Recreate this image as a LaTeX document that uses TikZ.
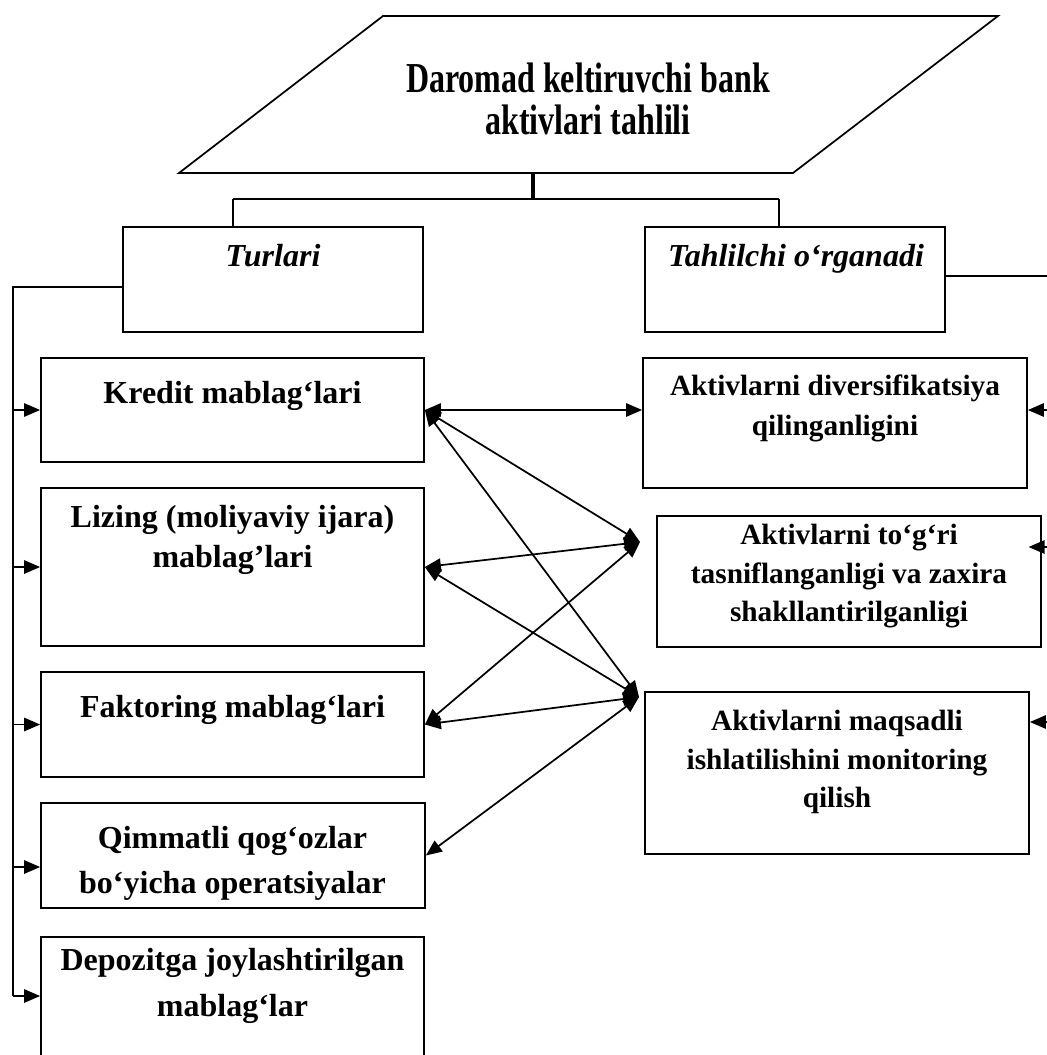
\documentclass[tikz,border=0pt]{standalone}
\usepackage{fontspec}
\setmainfont{Liberation Serif}
\newfontfamily\titlefont[FakeStretch=0.75]{Liberation Serif}
\usetikzlibrary{arrows.meta,fit}
\begin{document}
\begin{tikzpicture}[x=0.75pt,y=-0.75pt,
  boxst/.style={draw,line width=1.3pt,inner sep=0pt},
  lbl/.style={font=\fontsize{24}{30}\selectfont\bfseries,align=center,inner sep=0pt,anchor=north},
  rlbl/.style={font=\fontsize{22}{29}\selectfont\bfseries,align=center,inner sep=0pt,anchor=north},
  ilbl/.style={font=\fontsize{24}{30}\selectfont\bfseries\itshape,inner sep=0pt,anchor=base},
  conn/.style={line width=1.3pt},
  arr/.style={conn,-{Triangle[length=12pt,width=10pt]}},
  darr/.style={conn,{Triangle[length=12pt,width=10pt]}-{Triangle[length=12pt,width=10pt]}},
]
\useasboundingbox (0,0) rectangle (1046,1055);

% title parallelogram
\coordinate (pa) at (383,16);
\coordinate (pb) at (998,16);
\coordinate (pc) at (793,173);
\coordinate (pd) at (179,173);
\draw[conn] (pa) -- (pb) -- (pc) -- (pd) -- cycle;
\node[align=center,inner sep=0pt,anchor=north,font=\titlefont\fontsize{32}{31}\selectfont\bfseries] (title) at (588,63) {Daromad keltiruvchi bank\\aktivlari tahlili};

% second level boxes
\node[boxst,fit={(123,227)(423,332)}] (turlari) {};
\node[ilbl] (turlaritxt) at (273,267) {Turlari};
\node[boxst,fit={(645,227)(945,332)}] (tahl) {};
\node[ilbl] (tahltxt) at (796,267) {Tahlilchi o‘rganadi};

% left boxes
\node[boxst,fit={(41,358)(424,462)}] (kredit) {};
\node[lbl] (kredittxt) at (232.5,381) {Kredit mablag‘lari};
\node[boxst,fit={(41,488)(424,646)}] (lizing) {};
\node[lbl] (lizingtxt) at (232.5,505) {Lizing (moliyaviy ijara)\\mablag’lari};
\node[boxst,fit={(41,672)(424,777)}] (fakt) {};
\node[lbl] (fakttxt) at (232.5,695) {Faktoring mablag‘lari};
\node[boxst,fit={(41,803)(425,908)}] (qimm) {};
\node[lbl,font=\fontsize{24}{34}\selectfont\bfseries] (qimmtxt) at (232.5,826) {Qimmatli qog‘ozlar\\bo‘yicha operatsiyalar};
\node[boxst,fit={(41,937)(424,1068)}] (depo) {};
\node[lbl,font=\fontsize{24}{34.5}\selectfont\bfseries] (depotxt) at (232.5,948) {Depozitga joylashtirilgan\\mablag‘lar};

% right boxes
\node[boxst,fit={(643,358)(1027,488)}] (div) {};
\node[rlbl,font=\fontsize{22}{30}\selectfont\bfseries] (divtxt) at (835,375) {Aktivlarni diversifikatsiya\\qilinganligini};
\node[boxst,fit={(657,516)(1041,647)}] (tasn) {};
\node[rlbl] (tasntxt) at (849,524) {Aktivlarni to‘g‘ri\\tasniflanganligi va zaxira\\shakllantirilganligi};
\node[boxst,fit={(645,692)(1029,854)}] (maqs) {};
\node[rlbl] (maqstxt) at (837,710) {Aktivlarni maqsadli\\ishlatilishini monitoring\\qilish};

% top connectors
\coordinate (pm) at (533,173);
\coordinate (jm) at (533,199);
\coordinate (jl) at (233,199);
\coordinate (jr) at (779,199);
\draw[line width=3pt] (pm) -- (jm);
\draw[conn] (jl) -- (jr);
\draw[conn] (jl) -- (jl |- turlari.north);
\draw[conn] (jr) -- (jr |- tahl.north);

% left bus
\coordinate (bt) at (13,287);
\coordinate (bb) at (13,996);
\coordinate (lq) at (13,867);
\draw[conn] (bt -| turlari.west) -- (bt) -- (bb);
\draw[arr] (bt |- kredit.west) -- (kredit.west);
\draw[arr] (bt |- lizing.west) -- (lizing.west);
\draw[arr] (bt |- fakt.west) -- (fakt.west);
\draw[arr] (lq) -- (lq -| qimm.west);
\draw[arr] (bb) -- (bb -| depo.west);

% right bus
\coordinate (rt) at (1052,276);
\coordinate (r1) at (1052,410);
\coordinate (r2) at (1052,547);
\coordinate (r3) at (1052,722);
\draw[conn] (rt -| tahl.east) -- (rt) -- (r3);
\draw[arr] (r1) -- (r1 -| div.east);
\draw[arr,shorten >=-10pt] (r2) -- (r2 -| tasn.east);
\draw[arr] (r3) -- (r3 -| maqs.east);

% cross connections
\coordinate (q1) at (640,542);
\coordinate (q2) at (639,697);
\draw[darr] (kredit.east) -- (kredit.east -| div.west);
\draw[darr] (kredit.east) -- (q1);
\draw[darr] (kredit.east) -- (q2);
\draw[darr] (lizing.east) -- (q1);
\draw[darr] (lizing.east) -- (q2);
\draw[darr] (fakt.east) -- (q1);
\draw[darr] (fakt.east) -- (q2);
\draw[darr] (qimm.east) -- (q2);
\end{tikzpicture}
\end{document}
